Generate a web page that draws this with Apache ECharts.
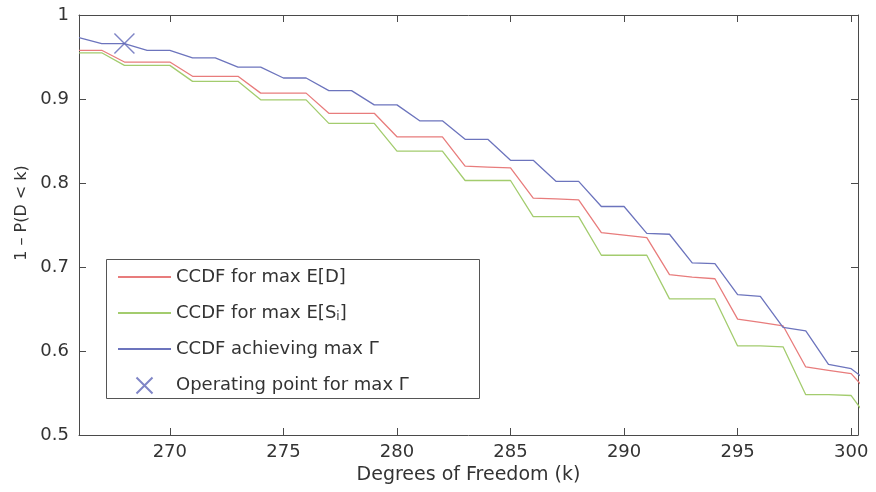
<!DOCTYPE html>
<html>
<head>
<meta charset="utf-8">
<script src="https://cdn.jsdelivr.net/npm/echarts@6/dist/echarts.min.js"></script>
<style>
  html, body { margin: 0; padding: 0; background: #ffffff; }
  #chart { width: 876px; height: 492px; }
</style>
</head>
<body>
<div id="chart"></div>
<script>
// ---- Data ----
const kValues = [266, 267, 268, 269, 270, 271, 272, 273, 274, 275, 276, 277, 278, 279, 280, 281, 282, 283,
                 284, 285, 286, 287, 288, 289, 290, 291, 292, 293, 294, 295, 296, 297, 298, 299, 300, 301];

const ccdfMaxED = [0.958, 0.958, 0.944, 0.944, 0.944, 0.927, 0.927, 0.927, 0.907, 0.907, 0.907, 0.883,
                   0.883, 0.883, 0.855, 0.855, 0.855, 0.820, 0.819, 0.818, 0.782, 0.781, 0.780, 0.741,
                   0.738, 0.735, 0.691, 0.688, 0.686, 0.638, 0.634, 0.630, 0.581, 0.577, 0.573, 0.543];

const ccdfMaxESi = [0.955, 0.955, 0.940, 0.940, 0.940, 0.921, 0.921, 0.921, 0.899, 0.899, 0.899, 0.871,
                    0.871, 0.871, 0.838, 0.838, 0.838, 0.803, 0.803, 0.803, 0.760, 0.760, 0.760, 0.714,
                    0.714, 0.714, 0.662, 0.662, 0.662, 0.606, 0.606, 0.605, 0.548, 0.548, 0.547, 0.510];

const ccdfMaxGamma = [0.973, 0.966, 0.966, 0.958, 0.958, 0.949, 0.949, 0.938, 0.938, 0.925, 0.925, 0.910,
                      0.910, 0.893, 0.893, 0.874, 0.874, 0.852, 0.852, 0.827, 0.827, 0.802, 0.802, 0.772,
                      0.772, 0.740, 0.739, 0.705, 0.704, 0.667, 0.665, 0.628, 0.624, 0.584, 0.579, 0.558];

const operatingK = [268];
const operatingP = [0.966];

const xTickValues = [270, 275, 280, 285, 290, 295, 300];
const yTickValues = [0.5, 0.6, 0.7, 0.8, 0.9, 1];

const seriesNames = ['CCDF for max E[D]', 'CCDF for max E[S_i]', 'CCDF achieving max Γ', 'Operating point for max Γ'];

// ---- Chart ----
const pairs = (xs, ys) => xs.map((x, i) => [x, ys[i]]);
const FONT = 'DejaVu Sans';
const AXIS_COLOR = '#4a4a4a';
const TEXT_COLOR = '#333333';
const X_MIN = 266, X_MAX = 300.3;
const COLORS = ['#e87c7c', '#a3cc6e', '#6c74bd'];

const chart = echarts.init(document.getElementById('chart'), null, { renderer: 'canvas' });

const commonX = {
  type: 'value', min: X_MIN, max: X_MAX,
  axisLine: { show: true, onZero: false, lineStyle: { color: AXIS_COLOR, width: 1 } },
  axisTick: { show: true, inside: true, length: 7, customValues: xTickValues, lineStyle: { color: AXIS_COLOR } },
  splitLine: { show: false }
};
const commonY = {
  type: 'value', min: 0.5, max: 1, interval: 0.1,
  axisLine: { show: true, onZero: false, lineStyle: { color: AXIS_COLOR, width: 1 } },
  axisTick: { show: true, inside: true, length: 7, lineStyle: { color: AXIS_COLOR } },
  splitLine: { show: false }
};

chart.setOption({
  animation: false,
  backgroundColor: '#ffffff',
  grid: { left: 79, right: 18, top: 15, bottom: 57, containLabel: false },
  xAxis: [
    Object.assign({}, commonX, {
      position: 'bottom',
      name: 'Degrees of Freedom (k)', nameLocation: 'middle', nameGap: 22,
      nameTextStyle: { fontFamily: FONT, fontSize: 19, color: TEXT_COLOR },
      axisLabel: { show: true, customValues: xTickValues, margin: 8, fontFamily: FONT, fontSize: 18, color: TEXT_COLOR }
    }),
    Object.assign({}, commonX, { position: 'top', axisLabel: { show: false } })
  ],
  yAxis: [
    Object.assign({}, commonY, {
      position: 'left',
      name: '1 – P(D < k)', nameLocation: 'middle', nameGap: 48,
      nameTextStyle: { fontFamily: FONT, fontSize: 16, color: TEXT_COLOR, padding: [0, 0, 0, 24] },
      axisLabel: { show: true, margin: 10, fontFamily: FONT, fontSize: 18, color: TEXT_COLOR,
                   formatter: v => String(Math.round(v * 10) / 10) }
    }),
    Object.assign({}, commonY, { position: 'right', axisLabel: { show: false } })
  ],
  legend: {
    orient: 'vertical', left: 104, top: 257,
    padding: [10, 10, 10, 13],
    itemWidth: 53, itemHeight: 16, itemGap: 16,
    data: [
      { name: seriesNames[0], itemStyle: { opacity: 0 } },
      { name: seriesNames[1], itemStyle: { opacity: 0 } },
      { name: seriesNames[2], itemStyle: { opacity: 0 } },
      { name: seriesNames[3] }
    ],
    formatter: name => name.replace('S_i', 'S{sub|i}'),
    textStyle: {
      fontFamily: FONT, fontSize: 18, lineHeight: 20, color: TEXT_COLOR,
      rich: { sub: { fontFamily: FONT, fontSize: 12, lineHeight: 20, color: TEXT_COLOR, verticalAlign: 'bottom', padding: [8, 0, 0, 0] } }
    }
  },
  graphic: [{
    type: 'rect', left: 104, top: 257, z: 100, silent: true,
    shape: { width: 373, height: 139 },
    style: { fill: 'none', stroke: '#555555', lineWidth: 1 }
  }],
  series: [
    { name: seriesNames[0], type: 'line', data: pairs(kValues, ccdfMaxED), showSymbol: false, symbol: 'none',
      clip: true, lineStyle: { color: COLORS[0], width: 1.3 }, itemStyle: { color: COLORS[0] }, z: 3 },
    { name: seriesNames[1], type: 'line', data: pairs(kValues, ccdfMaxESi), showSymbol: false, symbol: 'none',
      clip: true, lineStyle: { color: COLORS[1], width: 1.3 }, itemStyle: { color: COLORS[1] }, z: 2 },
    { name: seriesNames[2], type: 'line', data: pairs(kValues, ccdfMaxGamma), showSymbol: false, symbol: 'none',
      clip: true, lineStyle: { color: COLORS[2], width: 1.3 }, itemStyle: { color: COLORS[2] }, z: 4 },
    { name: seriesNames[3], type: 'scatter', data: pairs(operatingK, operatingP),
      symbol: 'path://M0,0 L10,10 M10,0 L0,10', symbolSize: 20, z: 5,
      itemStyle: { color: 'none', borderColor: '#5f67b8', borderWidth: 1.4 } }
  ]
});
</script>
</body>
</html>
